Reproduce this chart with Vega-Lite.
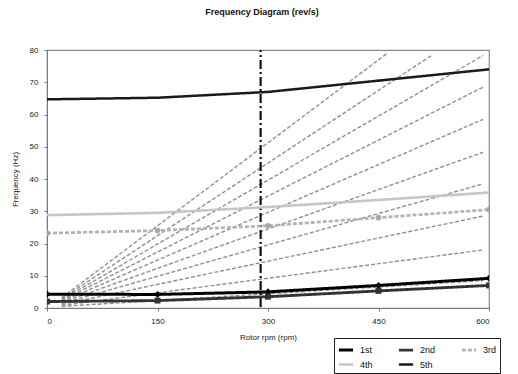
{
  "$schema": "https://vega.github.io/schema/vega-lite/v6.json",
  "autosize": {"type": "none"},
  "width": 442,
  "height": 258,
  "padding": {"left": 47, "top": 50, "right": 29, "bottom": 66},
  "background": "white",
  "title": {"text": "Frequency Diagram (rev/s)", "font": "Liberation Sans", "fontSize": 9, "fontWeight": "bold", "color": "#111", "offset": 29, "anchor": "middle", "dx": -6},
  "config": {
    "view": {"stroke": "#8a8a8a", "strokeWidth": 1.2},
    "axis": {"grid": false, "labelFont": "Liberation Sans", "labelFontSize": 8, "labelColor": "#222", "titleFont": "Liberation Sans", "titleFontSize": 8, "titleFontWeight": "normal", "titleColor": "#222", "domainColor": "#777", "tickColor": "#777", "tickSize": 3},
    "legend": {"labelFont": "Liberation Sans", "labelFontSize": 9, "labelColor": "#111"}
  },
  "datasets": {
    "modes": [
      {"rpm": 0, "freq": 4.3, "mode": "1st"}, {"rpm": 150, "freq": 4.2, "mode": "1st"}, {"rpm": 300, "freq": 5.0, "mode": "1st"}, {"rpm": 450, "freq": 7.0, "mode": "1st"}, {"rpm": 600, "freq": 9.2, "mode": "1st"},
      {"rpm": 0, "freq": 2.0, "mode": "2nd"}, {"rpm": 150, "freq": 2.3, "mode": "2nd"}, {"rpm": 300, "freq": 3.5, "mode": "2nd"}, {"rpm": 450, "freq": 5.3, "mode": "2nd"}, {"rpm": 600, "freq": 7.0, "mode": "2nd"},
      {"rpm": 0, "freq": 23.2, "mode": "3rd"}, {"rpm": 150, "freq": 24.0, "mode": "3rd"}, {"rpm": 300, "freq": 25.5, "mode": "3rd"}, {"rpm": 450, "freq": 28.0, "mode": "3rd"}, {"rpm": 600, "freq": 30.5, "mode": "3rd"},
      {"rpm": 0, "freq": 28.8, "mode": "4th"}, {"rpm": 150, "freq": 29.5, "mode": "4th"}, {"rpm": 300, "freq": 31.3, "mode": "4th"}, {"rpm": 450, "freq": 33.5, "mode": "4th"}, {"rpm": 600, "freq": 35.8, "mode": "4th"},
      {"rpm": 0, "freq": 64.7, "mode": "5th"}, {"rpm": 150, "freq": 65.2, "mode": "5th"}, {"rpm": 300, "freq": 67.0, "mode": "5th"}, {"rpm": 450, "freq": 70.5, "mode": "5th"}, {"rpm": 600, "freq": 74.0, "mode": "5th"}
    ],
    "orders": [
      {"rpm": 20, "freq": 0.5, "order": "1x"}, {"rpm": 592, "freq": 8.5, "order": "1x"},
      {"rpm": 20, "freq": 0.8, "order": "2x"}, {"rpm": 592, "freq": 18.0, "order": "2x"},
      {"rpm": 20, "freq": 1.1, "order": "3x"}, {"rpm": 592, "freq": 28.5, "order": "3x"},
      {"rpm": 20, "freq": 1.4, "order": "4x"}, {"rpm": 592, "freq": 38.5, "order": "4x"},
      {"rpm": 20, "freq": 1.7, "order": "5x"}, {"rpm": 592, "freq": 48.3, "order": "5x"},
      {"rpm": 20, "freq": 2.0, "order": "6x"}, {"rpm": 592, "freq": 58.5, "order": "6x"},
      {"rpm": 20, "freq": 2.3, "order": "7x"}, {"rpm": 592, "freq": 68.5, "order": "7x"},
      {"rpm": 20, "freq": 2.6, "order": "8x"}, {"rpm": 592, "freq": 78.3, "order": "8x"},
      {"rpm": 20, "freq": 2.9, "order": "9x"}, {"rpm": 522, "freq": 78.3, "order": "9x"},
      {"rpm": 20, "freq": 3.2, "order": "10x"}, {"rpm": 462, "freq": 79.0, "order": "10x"}
    ],
    "marker": [{"rpm": 290, "freq": 0.3, "freq2": 80}]
  },
  "encoding": {
    "x": {"field": "rpm", "type": "quantitative", "scale": {"domain": [0, 600], "nice": false}, "axis": {"values": [0, 150, 300, 450, 600], "title": "Rotor rpm (rpm)", "titlePadding": 8, "labelPadding": 6}},
    "y": {"field": "freq", "type": "quantitative", "scale": {"domain": [0, 80], "nice": false}, "axis": {"values": [0, 10, 20, 30, 40, 50, 60, 70, 80], "title": "Frequency (Hz)", "titlePadding": 10, "labelPadding": 6, "labelOverlap": false}}
  },
  "layer": [
    {
      "data": {"name": "orders"},
      "mark": {"type": "line", "color": "#909090", "strokeWidth": 1.4, "strokeDash": [4, 2], "clip": true},
      "encoding": {"detail": {"field": "order", "type": "nominal"}}
    },
    {
      "data": {"name": "marker"},
      "mark": {"type": "rule", "color": "#111", "strokeWidth": 2.2, "strokeDash": [9, 3, 2, 3], "clip": true},
      "encoding": {"y2": {"field": "freq2"}}
    },
    {
      "data": {"name": "modes"},
      "mark": {"type": "line", "clip": true},
      "encoding": {
        "color": {"field": "mode", "type": "nominal", "scale": {"domain": ["1st", "2nd", "3rd", "4th", "5th"], "range": ["#000000", "#333333", "#b3b3b3", "#c6c6c6", "#1a1a1a"]},
          "legend": {"title": null, "orient": "none", "legendX": 287, "legendY": 288, "direction": "horizontal", "columns": 3, "strokeColor": "#222", "padding": 3, "columnPadding": 20, "rowPadding": 0, "symbolType": "stroke", "symbolSize": 200, "labelOffset": 5, "labelFontSize": 9}},
        "strokeWidth": {"field": "mode", "type": "nominal", "scale": {"domain": ["1st", "2nd", "3rd", "4th", "5th"], "range": [3, 2.5, 1.5, 3.5, 1.6]}, "legend": {"title": null, "orient": "none", "legendX": 287, "legendY": 288, "direction": "horizontal", "columns": 3, "symbolType": "stroke", "symbolSize": 200}},
        "strokeDash": {"field": "mode", "type": "nominal", "scale": {"domain": ["1st", "2nd", "3rd", "4th", "5th"], "range": [[1, 0], [1, 0], [4, 2], [1, 0], [1, 0]]}, "legend": {"title": null, "orient": "none", "legendX": 287, "legendY": 288, "direction": "horizontal", "columns": 3, "symbolType": "stroke", "symbolSize": 200}}
      }
    },
    {
      "data": {"name": "modes"},
      "transform": [{"filter": "datum.mode === '1st'"}],
      "mark": {"type": "point", "shape": "diamond", "filled": true, "opacity": 1, "color": "#000000", "size": 50, "clip": true}
    },
    {
      "data": {"name": "modes"},
      "transform": [{"filter": "datum.mode === '2nd'"}],
      "mark": {"type": "point", "shape": "square", "filled": true, "opacity": 1, "color": "#333333", "size": 35, "clip": true}
    },
    {
      "data": {"name": "modes"},
      "transform": [{"filter": "datum.mode === '3rd'"}],
      "mark": {"type": "point", "shape": "circle", "filled": true, "opacity": 1, "color": "#a8a8a8", "size": 32, "clip": true}
    },
    {
      "data": {"name": "modes"},
      "transform": [{"filter": "datum.mode === '5th'"}],
      "mark": {"type": "point", "shape": "stroke", "filled": false, "opacity": 1, "color": "#1a1a1a", "strokeWidth": 1.5, "size": 40, "clip": true}
    }
  ]
}
